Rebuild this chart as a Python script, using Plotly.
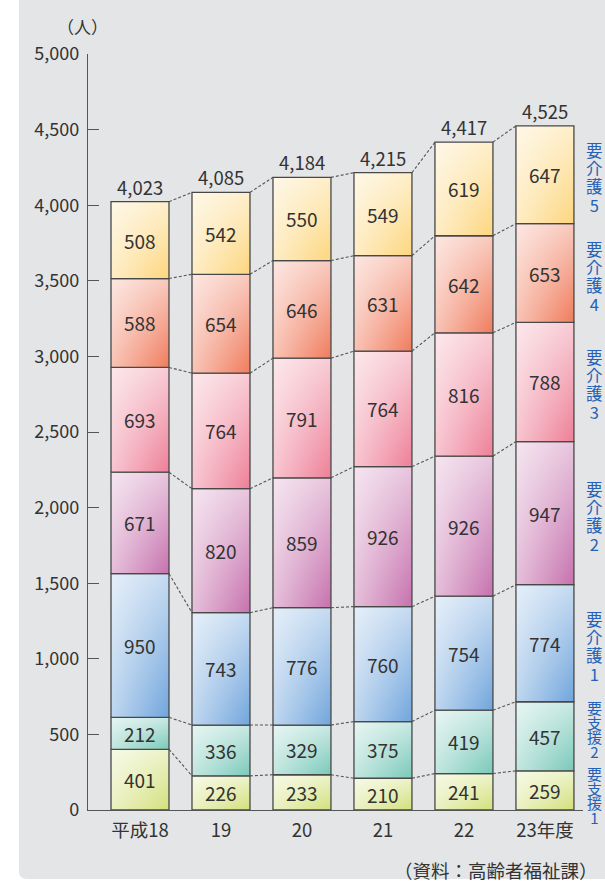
import plotly.graph_objects as go

# ---- data -------------------------------------------------------------
categories = ["平成18", "19", "20", "21", "22", "23年度"]
levels = ["要支援1", "要支援2", "要介護1", "要介護2", "要介護3", "要介護4", "要介護5"]

youshien1 = [401, 226, 233, 210, 241, 259]
youshien2 = [212, 336, 329, 375, 419, 457]
youkaigo1 = [950, 743, 776, 760, 754, 774]
youkaigo2 = [671, 820, 859, 926, 926, 947]
youkaigo3 = [693, 764, 791, 764, 816, 788]
youkaigo4 = [588, 654, 646, 631, 642, 653]
youkaigo5 = [508, 542, 550, 549, 619, 647]

series = [youshien1, youshien2, youkaigo1, youkaigo2, youkaigo3, youkaigo4, youkaigo5]

y_ticks = list(range(0, 5001, 500))

# ---- style ------------------------------------------------------------
FONT = "Noto Sans CJK JP"
TEXT = "#333333"
AXIS = "#555555"
BG = "#e4e5e7"
LABEL_BLUE = "#2561b6"
base_colors = ["#d3e07a", "#79c9b9", "#70a5dc", "#c671ad", "#ee7f97", "#f07b5c", "#fdd67e"]
BAR_W = 0.716

# plot-area geometry (pixels) used to place notes outside the axes
L, R, T, B = 88, 22, 54, 72
W, H = 605, 882
PW, PH = W - L - R, H - T - B


def px_x(p):
    return (p - L) / PW


def px_y(p):
    return (H - B - p) / PH


def mix_white(hex_color, frac):
    """Blend a colour with white; frac=1 keeps the colour, 0 gives white."""
    h = hex_color.lstrip("#")
    r, g, b = (int(h[i:i + 2], 16) for i in (0, 2, 4))
    r = round(255 + (r - 255) * frac)
    g = round(255 + (g - 255) * frac)
    b = round(255 + (b - 255) * frac)
    return f"rgb({r},{g},{b})"


fig = go.Figure()

n = len(categories)
xs = list(range(n))
cum = [[0] * n]
for s in series:
    cum.append([cum[-1][i] + s[i] for i in range(n)])
totals = cum[-1]

# ---- stacked bars drawn as gradient-filled rectangles ----------------
annotations = []
for k, s in enumerate(series):
    col = base_colors[k]
    for i in xs:
        x0, x1 = i - BAR_W / 2, i + BAR_W / 2
        y0, y1 = cum[k][i], cum[k + 1][i]
        rx = [x0, x1, x1, x0, x0]
        ry = [y0, y0, y1, y1, y0]
        # vertical part of the shading: pale at the top, full colour below
        fig.add_trace(go.Scatter(
            x=rx, y=ry, mode="lines", fill="toself", line=dict(width=0),
            fillgradient=dict(type="vertical",
                              colorscale=[[0, col], [1, mix_white(col, 0.4)]]),
            hoverinfo="skip", showlegend=False))
        # white sheen fading towards the right edge, plus the outline
        fig.add_trace(go.Scatter(
            x=rx, y=ry, mode="lines", fill="toself",
            line=dict(color="#484848", width=1.3),
            fillgradient=dict(type="horizontal",
                              colorscale=[[0, "rgba(255,255,255,0.55)"],
                                          [1, "rgba(255,255,255,0)"]]),
            hoverinfo="skip", showlegend=False))
        annotations.append(dict(
            x=i, y=(y0 + y1) / 2, xref="x", yref="y", text=str(s[i]),
            showarrow=False, font=dict(family=FONT, size=19, color=TEXT)))

# ---- dotted connectors between neighbouring bars ----------------------
cx, cy = [], []
for k in range(1, len(cum)):
    for i in range(n - 1):
        cx += [i + BAR_W / 2, i + 1 - BAR_W / 2, None]
        cy += [cum[k][i], cum[k][i + 1], None]
fig.add_trace(go.Scatter(
    x=cx, y=cy, mode="lines", line=dict(color="#555555", width=1.1, dash="3px,2px"),
    hoverinfo="skip", showlegend=False))

# ---- totals above each bar -------------------------------------------
for i in xs:
    annotations.append(dict(
        x=i, y=totals[i], xref="x", yref="y", text=f"{totals[i]:,}",
        showarrow=False, yshift=15, font=dict(family=FONT, size=18.5, color=TEXT)))

# ---- vertical level names beside the last bar -------------------------
# one character per line; the base font sets the line pitch (1.3em) and the
# span sets the glyph size, so the stack stays as tight as a vertical label
nudge = {"要支援2": 7, "要支援1": -5}
last = n - 1
for k, name in enumerate(levels):
    mid = (cum[k][last] + cum[k + 1][last]) / 2
    pitch = 14.7 if "支援" in name else 18.2
    glyph = 15 if "支援" in name else 16.5
    stacked = "<br>".join(
        f"<span style='font-size:{glyph}px'>{ch}</span>" for ch in name)
    annotations.append(dict(
        x=px_x(594), y=mid, xref="paper", yref="y", text=stacked, showarrow=False,
        xanchor="center", yanchor="middle", borderpad=0,
        yshift=nudge.get(name, -3),
        font=dict(family=FONT, size=pitch / 1.3, color=LABEL_BLUE)))

# ---- unit and source notes --------------------------------------------
annotations.append(dict(
    x=px_x(82), y=px_y(26), xref="paper", yref="paper", text="（人）",
    showarrow=False, xanchor="center", yanchor="middle",
    font=dict(family=FONT, size=17, color=TEXT)))
annotations.append(dict(
    x=px_x(600), y=px_y(870), xref="paper", yref="paper",
    text="（資料：高齢者福祉課）", showarrow=False, xanchor="right", yanchor="middle",
    font=dict(family=FONT, size=18.5, color=TEXT)))

# ---- grey panel with a rounded lower-left corner ----------------------
r = 8
panel = (
    f"M {px_x(19)} {px_y(-2)} L {px_x(607)} {px_y(-2)} "
    f"L {px_x(607)} {px_y(879)} L {px_x(19 + r)} {px_y(879)} "
    f"Q {px_x(19)} {px_y(879)} {px_x(19)} {px_y(879 - r)} Z"
)

fig.update_layout(
    width=W, height=H,
    margin=dict(l=L, r=R, t=T, b=B),
    paper_bgcolor="white",
    plot_bgcolor="rgba(0,0,0,0)",
    shapes=[dict(type="path", path=panel, xref="paper", yref="paper",
                 fillcolor=BG, line=dict(width=0), layer="below")],
    annotations=annotations,
    showlegend=False,
    xaxis=dict(
        range=[-0.642, 5.47], tickvals=xs, ticktext=categories,
        showline=True, linecolor=AXIS, linewidth=1.3, ticks="",
        showgrid=False, zeroline=False, ticklabelstandoff=4,
        tickfont=dict(family=FONT, size=18.5, color=TEXT)),
    yaxis=dict(
        range=[0, 5000], tickvals=y_ticks, tickformat=",",
        ticks="inside", ticklen=11, tickwidth=1.3, tickcolor=AXIS,
        showline=True, linecolor=AXIS, linewidth=1.3,
        showgrid=False, zeroline=False, ticklabelstandoff=4,
        tickfont=dict(family=FONT, size=18, color=TEXT)),
)

fig.write_html("out.html")
